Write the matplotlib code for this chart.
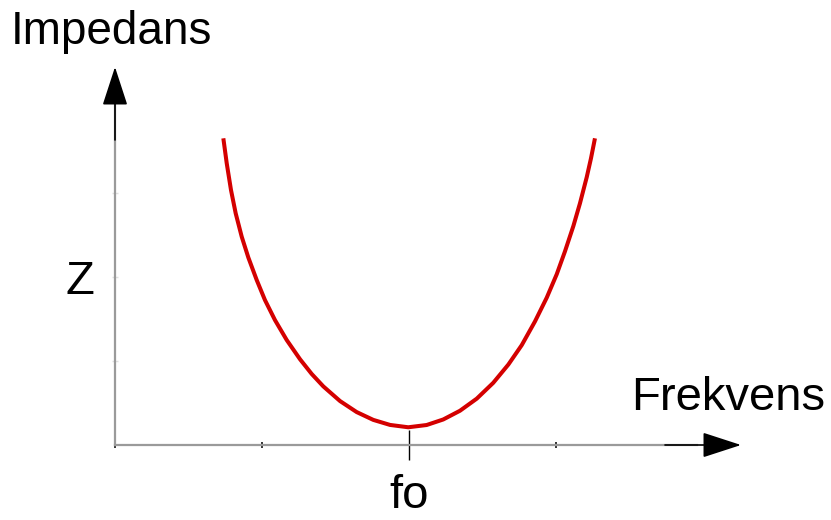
import matplotlib
matplotlib.use("Agg")
import matplotlib.pyplot as plt

plt.rcParams['font.family'] = ['Liberation Sans', 'DejaVu Sans']

# Curve points (x in tick units, fo = 2; y in grid units, Z = 2)
freq = [0.737, 0.760, 0.789, 0.821, 0.862, 0.907, 0.964, 1.020, 1.088, 1.168, 1.259, 1.338,
        1.417, 1.531, 1.644, 1.757, 1.871, 1.995, 2.120, 2.233, 2.347, 2.461, 2.573, 2.676,
        2.767, 2.857, 2.937, 3.005, 3.061, 3.118, 3.163, 3.209, 3.238, 3.265]
impedance = [3.651, 3.354, 3.036, 2.758, 2.480, 2.232, 1.964, 1.726, 1.488, 1.250, 1.020, 0.846,
             0.698, 0.523, 0.392, 0.299, 0.239, 0.211, 0.238, 0.304, 0.408, 0.552, 0.740, 0.958,
             1.189, 1.471, 1.754, 2.033, 2.305, 2.606, 2.877, 3.188, 3.413, 3.651]

x_ticks_minor = [0, 1, 3]
x_tick_major = [2]
x_tick_labels = ["fo"]
y_ticks_minor = [1, 3]
y_tick_major = [2]
y_tick_labels = ["Z"]

W, H = 831, 520
fig = plt.figure(figsize=(W / 100, H / 100), dpi=100)
ax = fig.add_axes([115 / W, (H - 445) / H, (697 - 115) / W, (445 - 100) / H])
ax.set_xlim(0, (697 - 115) / 147)
ax.set_ylim(0, (445 - 100) / 84)

ax.plot(freq, impedance, color='#d40000', lw=2.9, solid_capstyle='butt', solid_joinstyle='round')

for s in ['top', 'right']:
    ax.spines[s].set_visible(False)
for s in ['left', 'bottom']:
    ax.spines[s].set_color('#9a9a9a')
    ax.spines[s].set_linewidth(1.6)

ax.set_xticks(x_tick_major)
ax.set_xticklabels(x_tick_labels, fontsize=34)
ax.set_xticks(x_ticks_minor, minor=True)
ax.set_yticks(y_tick_major)
ax.set_yticklabels(y_tick_labels, fontsize=34)
ax.set_yticks(y_ticks_minor, minor=True)

ax.tick_params(axis='x', which='major', direction='inout', length=22, width=1.0, color='black', pad=10)
ax.tick_params(axis='x', which='minor', direction='inout', length=4, width=1.4, color='#333333')
ax.tick_params(axis='y', which='major', direction='inout', length=5, width=1.0, color='#e0e0e0', pad=12)
ax.tick_params(axis='y', which='minor', direction='inout', length=5, width=1.0, color='#e0e0e0')

arrow = dict(arrowstyle='-|>,head_length=1.63,head_width=0.53', mutation_scale=15,
             color='black', lw=1.2, shrinkA=0, shrinkB=0)
ax.annotate('', xy=((741 - 115) / 147, 0), xytext=((665 - 115) / 147, 0),
            arrowprops=arrow, annotation_clip=False)
ax.annotate('', xy=(0, (445 - 67) / 84), xytext=(0, (445 - 140) / 84),
            arrowprops=arrow, annotation_clip=False)

fig.text(11 / W, (H - 44) / H, "Impedans", fontsize=33, va='baseline', ha='left')
fig.text(631 / W, (H - 410) / H, "Frekvens", fontsize=34, va='baseline', ha='left')

fig.savefig("out.png", dpi=100, facecolor='white')
